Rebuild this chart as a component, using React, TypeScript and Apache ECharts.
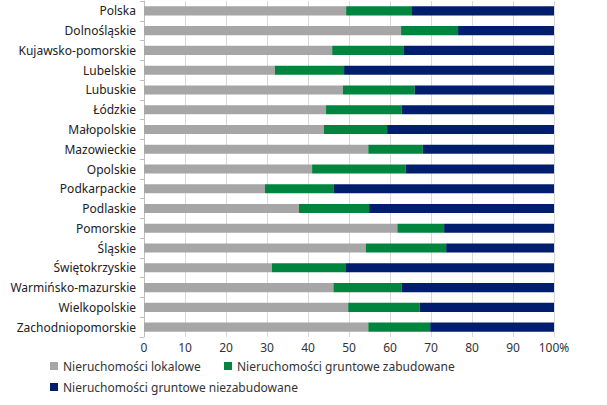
import React, { useEffect, useRef } from "react";
import * as echarts from "echarts";

const categories = [
  "Polska", "Dolnośląskie", "Kujawsko-pomorskie", "Lubelskie", "Lubuskie", "Łódzkie",
  "Małopolskie", "Mazowieckie", "Opolskie", "Podkarpackie", "Podlaskie", "Pomorskie",
  "Śląskie", "Świętokrzyskie", "Warmińsko-mazurskie", "Wielkopolskie", "Zachodniopomorskie",
];
const lokalowe = [49.3, 62.7, 45.9, 31.9, 48.5, 44.4, 43.9, 54.7, 41.0, 29.5, 37.8, 61.8, 54.1, 31.2, 46.2, 49.8, 54.7];
const zabudowane = [15.9, 13.9, 17.5, 16.9, 17.5, 18.4, 15.4, 13.3, 22.8, 16.7, 17.1, 11.4, 19.6, 17.9, 16.7, 17.4, 15.1];
const niezabudowane = [34.8, 23.4, 36.6, 51.2, 34.0, 37.2, 40.7, 32.0, 36.2, 53.8, 45.1, 26.8, 26.3, 50.9, 37.1, 32.8, 30.2];
const seriesNames = [
  "Nieruchomości lokalowe",
  "Nieruchomości gruntowe zabudowane",
  "Nieruchomości gruntowe niezabudowane",
];
const colors = ["#A6A6A6", "#00853E", "#001D6E"];

export default function App() {
  const ref = useRef<HTMLDivElement>(null);
  useEffect(() => {
    if (!ref.current) return;
    const chart = echarts.init(ref.current, null, { renderer: "svg" });
    const font = "'Noto Sans', sans-serif";
    const dataSets = [lokalowe, zabudowane, niezabudowane];
    const legendBase = {
      itemWidth: 8,
      itemHeight: 8,
      itemGap: 10,
      icon: "rect",
      textStyle: { fontSize: 12, color: "#333", fontFamily: font },
      padding: 0,
    };
    chart.setOption({
      animation: false,
      textStyle: { fontFamily: font },
      color: colors,
      grid: { left: 144, right: 53, top: 1, bottom: 68, containLabel: false },
      legend: [
        { ...legendBase, left: 50, top: 360, data: [seriesNames[0]] },
        { ...legendBase, left: 224, top: 360, data: [seriesNames[1]] },
        { ...legendBase, left: 50, top: 381, data: [seriesNames[2]] },
      ],
      xAxis: {
        type: "value",
        min: 0,
        max: 100,
        interval: 10,
        axisLine: { show: false },
        axisTick: { show: false },
        splitLine: { lineStyle: { color: "#d9d9d9" } },
        axisLabel: {
          fontSize: 12,
          color: "#333",
          margin: 4,
          formatter: (v: number) => (v === 100 ? "100%" : String(v)),
        },
      },
      yAxis: {
        type: "category",
        inverse: true,
        data: categories,
        axisLine: { show: true, lineStyle: { color: "#bfbfbf" } },
        axisTick: { show: true, length: 4, lineStyle: { color: "#bfbfbf" } },
        axisLabel: { fontSize: 12, color: "#222", margin: 8 },
      },
      series: seriesNames.map((name, i) => ({
        name,
        type: "bar",
        stack: "total",
        barWidth: "46%",
        data: dataSets[i],
        itemStyle: { color: colors[i] },
      })),
    });
    return () => chart.dispose();
  }, []);
  return <div ref={ref} style={{ width: 607, height: 405, position: "absolute", left: 0, top: 0 }} />;
}
